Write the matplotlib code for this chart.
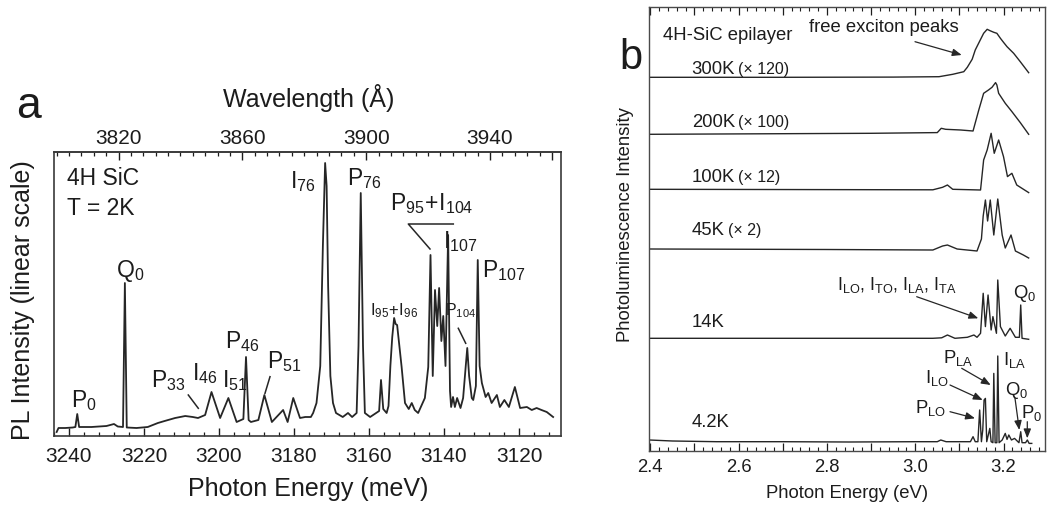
import matplotlib
matplotlib.use('Agg')
import matplotlib.pyplot as plt
from matplotlib.ticker import MultipleLocator, FixedLocator, FuncFormatter
import numpy as np

plt.rcParams['font.family'] = ['Liberation Sans', 'DejaVu Sans']
plt.rcParams['mathtext.fontset'] = 'custom'
plt.rcParams['mathtext.rm'] = 'Liberation Sans'
plt.rcParams['mathtext.it'] = 'Liberation Sans'
plt.rcParams['mathtext.default'] = 'regular'

# ---------------- data: panel a (2K spectrum, photon energy meV vs linear PL) -------------
E_A = [3243.3, 3242.8, 3241.0, 3239.0, 3238.3, 3237.8, 3237.3, 3234.0, 3230.0, 3228.0,
       3227.0, 3225.6, 3225.1, 3224.6, 3222.0, 3219.0,
       3216.3, 3214.5, 3211.7, 3209.0, 3207.0, 3205.6, 3203.7, 3202.0, 3199.7, 3197.5,
       3195.3, 3193.5, 3192.8, 3192.1, 3191.5, 3189.5, 3187.9, 3185.9, 3182.9, 3181.7,
       3180.2, 3178.4,
       3177.0, 3175.5, 3174.9, 3174.0, 3173.0, 3172.3, 3171.7, 3171.3, 3170.9, 3170.3,
       3169.6, 3168.8, 3167.0, 3165.6, 3164.5, 3163.3, 3162.8, 3162.2, 3161.6, 3161.1,
       3159.7, 3158.5,
       3157.3, 3156.8, 3156.2, 3155.3, 3154.8, 3154.3, 3153.8, 3153.3, 3152.9, 3152.5,
       3151.3, 3150.4, 3149.4, 3148.6, 3147.8, 3146.9,
       3145.1, 3144.2, 3143.6, 3143.0, 3142.4, 3141.8, 3141.3, 3140.7, 3140.2, 3139.6,
       3138.9, 3138.4, 3138.1, 3137.6, 3137.1, 3136.5, 3135.6,
       3134.9, 3134.2, 3133.8, 3133.3, 3132.6, 3132.2, 3131.5, 3131.0, 3130.5, 3129.9,
       3128.9, 3128.2, 3127.3, 3125.9, 3125.1, 3123.9, 3122.7, 3121.1, 3119.7, 3117.9,
       3116.6, 3115.3, 3114.0, 3112.6, 3110.9]
I_A = [4, 8, 8, 8.5, 9, 22, 9, 9, 10, 12,
       9.5, 9, 153, 8.5, 8, 9,
       13, 15, 18, 20, 19, 18, 21, 44, 18, 38,
       14, 17, 79, 16, 14, 16, 41, 14, 26, 14,
       38, 18,
       19, 19, 23, 33, 70, 190, 273, 250, 150, 60,
       33, 23, 19, 23, 19, 23, 90, 243, 90, 23,
       19, 22,
       25, 56, 27, 23, 30, 70, 99, 118, 112, 111,
       69, 33, 27, 33, 26, 23,
       38, 69, 181, 60, 146, 110, 148, 95, 120, 70,
       201, 45, 29, 39, 29, 38, 28,
       38, 70, 88, 60, 38, 36, 50, 176, 70, 53,
       39, 43, 33, 41, 29, 36, 29, 49, 28, 29,
       26, 28, 26, 24, 19]

BOTTOM_TICKS_A = [3240, 3220, 3200, 3180, 3160, 3140, 3120]
TOP_TICKS_A = [3820, 3860, 3900, 3940]

# ---------------- data: panel b (temperature series, eV vs PL, relative to own baseline) ---
T300_E = [2.398, 2.700, 2.950, 3.054, 3.085, 3.110, 3.118, 3.129, 3.136, 3.147, 3.155, 3.163,
          3.170, 3.178, 3.185, 3.193, 3.200, 3.208, 3.223, 3.238, 3.257]
T300_I = [0, 0, 0.2, 0.6, 3, 5.6, 10, 18, 27.3, 37, 44, 48,
          46.5, 45, 44, 39, 35, 30.6, 24, 15.6, 4.6]
T200_E = [2.398, 2.900, 3.050, 3.059, 3.069, 3.103, 3.131, 3.144, 3.155, 3.166, 3.174, 3.182,
          3.185, 3.189, 3.204, 3.219, 3.238, 3.257]
T200_I = [0, 1, 1.7, 6, 5, 4.3, 3.3, 24.3, 41, 44.3, 47, 51.7,
          49.3, 41, 31, 22.7, 11.7, 0]
T100_E = [2.398, 3.040, 3.062, 3.073, 3.085, 3.148, 3.155, 3.163, 3.172, 3.179, 3.189, 3.200,
          3.209, 3.219, 3.230, 3.257]
T100_I = [0, -0.5, 2, 4.3, 0, -0.7, 29.3, 39.3, 56, 36, 49.3, 32.7,
          12.7, 16, 4.3, -3.3]
T45_E = [2.398, 2.800, 3.040, 3.062, 3.073, 3.095, 3.140, 3.150, 3.154, 3.159, 3.164, 3.170,
         3.178, 3.187, 3.197, 3.204, 3.217, 3.227, 3.245, 3.257]
T45_I = [0, -0.5, -1, 3, 4, 0, -2, 10, 33, 49, 28, 49,
         14, 50, 14, 1, 14, -2, -6, -9]
T14_E = [2.398, 3.040, 3.060, 3.073, 3.090, 3.118, 3.133, 3.140, 3.148, 3.154, 3.159, 3.165,
         3.172, 3.176, 3.184, 3.187, 3.193, 3.204, 3.215, 3.227, 3.236, 3.239, 3.242, 3.257]
T14_I = [0, 0, 0.5, 3.3, 0, 1, 3.3, 1, 5, 45, 11.7, 43.3,
         8.3, 21.7, 5, 58.3, 11.7, 2.3, 10, 1, 1, 33.3, 0, -1]
T4_E = [2.398, 2.450, 2.550, 2.700, 2.850, 3.000, 3.050, 3.058, 3.070, 3.125, 3.131, 3.136,
        3.142, 3.146, 3.150, 3.153, 3.156, 3.159, 3.162, 3.169, 3.172, 3.176, 3.178, 3.181,
        3.185, 3.187, 3.190, 3.197, 3.204, 3.208, 3.212, 3.218, 3.225, 3.235, 3.239, 3.242,
        3.250, 3.254, 3.258, 3.264]
T4_I = [1.7, 0.7, 0, 0, -0.3, 0, 0, 1.7, 0, 0, 5, 0,
        0, 31.7, 0, 11.7, 41.7, 43.3, 0, 13.3, 0, -1, 68.3, -1,
        -1, 85.7, -1, 1.7, 8.3, 2.3, 6.7, 1.7, 3.3, -1, 10, -1,
        -1, 1.7, -1.7, -1.7]

SERIES_B = [(T300_E, T300_I), (T200_E, T200_I), (T100_E, T100_I),
            (T45_E, T45_I), (T14_E, T14_I), (T4_E, T4_I)]
TEMP_LABELS = ['300K', '200K', '100K', '45K', '14K', '4.2K']
SCALE_LABELS = ['(× 120)', '(× 100)', '(× 12)', '(× 2)', '', '']

# ---------------- figure ----------------
W, H = 1049, 512
fig = plt.figure(figsize=(W / 100, H / 100), dpi=100)
INK = '#1c1c1c'
LINE = '#262626'


def fp(x, y):
    return x / W, 1 - y / H


# ---- panel a ----
AL, AR, AT, AB = 54, 561, 152, 436
axa = fig.add_axes([AL / W, 1 - AB / H, (AR - AL) / W, (AB - AT) / H])
axa.plot(E_A, I_A, color=LINE, lw=1.3, solid_joinstyle='round')
axa.set_xlim(3244.0, 3108.8)
axa.set_ylim(0, 284)
axa.set_yticks([])
axa.xaxis.set_major_locator(FixedLocator(BOTTOM_TICKS_A))
axa.xaxis.set_minor_locator(MultipleLocator(4))
axa.xaxis.set_major_formatter(FuncFormatter(lambda v, p: f'{v:.0f}'))
axa.tick_params(axis='x', which='major', direction='in', length=6, width=1.0,
                labelsize=15, pad=8, colors=INK)
axa.tick_params(axis='x', which='minor', direction='in', length=3, width=0.9, colors=INK)
for s in axa.spines.values():
    s.set_color('#3a3a3a')
    s.set_linewidth(1.2)

E0, W0, SL = 3226.8, 3820.0, 1.2113


def e2w(e):
    return W0 + SL * (E0 - np.asarray(e, dtype=float))


def w2e(w):
    return E0 - (np.asarray(w, dtype=float) - W0) / SL


sec = axa.secondary_xaxis('top', functions=(e2w, w2e))
sec.xaxis.set_major_locator(FixedLocator(TOP_TICKS_A + [3960]))
sec.xaxis.set_minor_locator(MultipleLocator(4))
sec.xaxis.set_major_formatter(FuncFormatter(lambda v, p: f'{v:.0f}' if v < 3950 else ''))
sec.tick_params(axis='x', which='major', direction='in', length=6, width=1.0,
                labelsize=15, pad=3, colors=INK)
sec.tick_params(axis='x', which='minor', direction='in', length=3, width=0.9, colors=INK)
sec.spines['top'].set_color('#3a3a3a')
sec.spines['top'].set_linewidth(1.2)


def pa(x, y):
    return (x - AL) / (AR - AL), (AB - y) / (AB - AT)


def ta(x, y, s, size=16.5, **kw):
    axa.text(*pa(x, y), s, transform=axa.transAxes, fontsize=size, color=INK,
             ha='left', va='baseline', **kw)


def la(pts, lw=1.1):
    xs = [pa(x, y)[0] for x, y in pts]
    ys = [pa(x, y)[1] for x, y in pts]
    axa.plot(xs, ys, transform=axa.transAxes, color=LINE, lw=lw, clip_on=False)


ta(66.7, 185, '4H SiC')
ta(66.7, 215, 'T = 2K')
ta(71, 406.7, r'$P_0$')
ta(115.7, 277, r'$Q_0$')
ta(151, 387, r'$P_{33}$')
ta(191.7, 380, r'$I_{46}$')
ta(221.7, 387.5, r'$I_{51}$')
ta(225, 348.3, r'$P_{46}$')
ta(266.7, 368, r'$P_{51}$')
ta(290, 188.3, r'$I_{76}$')
ta(346.7, 185, r'$P_{76}$')
ta(390, 210, r'$P_{95}\!+\!I_{104}$')
ta(443.3, 248.3, r'$I_{107}$')
ta(481.7, 276.7, r'$P_{107}$')
ta(370, 315, r'$I_{95}\!+\!I_{96}$', size=12)
ta(445, 315, r'$P_{104}$', size=11.5)
la([(453.3, 224), (408.3, 224), (430, 249)])
la([(458.3, 328.3), (465.7, 343.3)])
la([(188.3, 395), (198.3, 408.3)])
la([(270, 376.7), (265, 393.3)])

fig.text(*fp(28, 106), 'a', fontsize=32, color=INK, ha='center', va='center')
fig.text(*fp(309, 98), 'Wavelength (Å)', fontsize=18, color=INK, ha='center', va='center')
fig.text(*fp(308, 489), 'Photon Energy (meV)', fontsize=18, color=INK, ha='center', va='center')
fig.text(*fp(23, 300), 'PL Intensity (linear scale)', fontsize=18, color=INK,
         ha='center', va='center', rotation=90)

# ---- panel b ----
BL, BR, BT, BB = 649, 1045, 7, 451
axb = fig.add_axes([BL / W, 1 - BB / H, (BR - BL) / W, (BB - BT) / H])
OFFSETS = [373.7, 316.7, 261.7, 202.0, 112.7, 9.3]
for (e, i), off in zip(SERIES_B, OFFSETS):
    axb.plot(e, np.asarray(i) + off, color=LINE, lw=1.0, solid_joinstyle='round')
axb.set_xlim(2.397, 3.294)
axb.set_ylim(0, 444)
axb.set_yticks([])
axb.xaxis.set_major_locator(MultipleLocator(0.1))
axb.xaxis.set_minor_locator(MultipleLocator(0.02))
axb.xaxis.set_major_formatter(FuncFormatter(
    lambda v, p: f'{v:.1f}' if abs(v / 0.2 - round(v / 0.2)) < 1e-6 else ''))
axb.tick_params(axis='x', which='major', direction='in', length=6, width=0.9, top=True,
                labelsize=13.3, pad=6, colors=INK)
axb.tick_params(axis='x', which='minor', direction='in', length=3, width=0.8, top=True, colors=INK)
for s in axb.spines.values():
    s.set_color('#4a4a4a')
    s.set_linewidth(1.0)


def pb(x, y):
    return (x - BL) / (BR - BL), (BB - y) / (BB - BT)


def tb(x, y, s, size=13.3, **kw):
    axb.text(*pb(x, y), s, transform=axb.transAxes, fontsize=size, color=INK,
             ha='left', va='baseline', **kw)


def arb(x1, y1, x2, y2):
    axb.annotate('', xy=pb(x2, y2), xytext=pb(x1, y1), xycoords='axes fraction',
                 textcoords='axes fraction',
                 arrowprops=dict(arrowstyle='-|>,head_length=0.55,head_width=0.22',
                                 color=LINE, lw=0.9, shrinkA=0, shrinkB=0))


tb(663.3, 40, '4H-SiC epilayer')
tb(809.3, 31.7, 'free exciton peaks')
arb(915, 41.7, 961.7, 55)
LBL_Y = [74, 127.3, 182.3, 234.7, 326.7, 426.7]
SC_X = [738.5, 738.5, 738.5, 727.5, 0, 0]
for t, sc, y, sx in zip(TEMP_LABELS, SCALE_LABELS, LBL_Y, SC_X):
    tb(691.7, y, t)
    if sc:
        tb(sx, y, sc, size=11.5)

tb(836.7, 290, r'$I_{LO}$, $I_{TO}$, $I_{LA}$, $I_{TA}$', size=13)
arb(916.7, 296.7, 978.3, 318.3)
tb(1013.3, 298.3, r'$Q_0$')
tb(943.3, 362.7, r'$P_{LA}$')
arb(961.7, 368.3, 990.7, 385)
tb(1003.3, 365, r'$I_{LA}$')
tb(925, 383.3, r'$I_{LO}$')
arb(950, 385, 982.7, 400)
tb(1005, 395, r'$Q_0$')
arb(1015, 398.3, 1019.3, 430)
tb(915, 413.3, r'$P_{LO}$')
arb(950, 411.7, 975, 418.3)
tb(1020.7, 418.3, r'$P_0$')
arb(1027.3, 421.7, 1027.3, 438.3)

fig.text(*fp(631, 58), 'b', fontsize=30, color=INK, ha='center', va='center')
fig.text(*fp(847, 493), 'Photon Energy (eV)', fontsize=13.3, color=INK, ha='center', va='center')
fig.text(*fp(625, 225), 'Photoluminescence Intensity', fontsize=13.3, color=INK,
         ha='center', va='center', rotation=90)

fig.savefig('out.png', dpi=100, facecolor='white')
